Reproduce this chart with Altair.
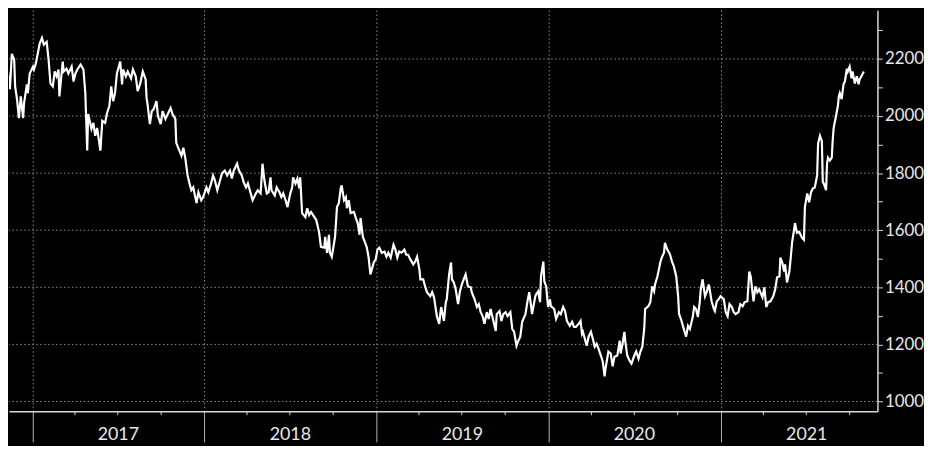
import altair as alt
import pandas as pd

# ---- data ----
base_date = "2017-01-01"
# days since 2017-01-01
day_offsets = [
    -67, -60, -54, -52, -48, -44, -39, -37, -33, -29, -25, -20, -18, -12, -10, -6, 1, 3, 7, 11,
    15, 20, 24, 30, 34, 38, 43, 47, 51, 55, 57, 64, 66, 72, 76, 83, 87, 91, 95, 102,
    108, 112, 116, 118, 125, 129, 133, 137, 144, 148, 154, 158, 163, 167, 171, 175, 179, 186, 190, 192,
    198, 202, 209, 213, 219, 223, 228, 234, 240,
    242, 244, 249, 253, 257, 263, 266, 272, 276, 282, 287, 293, 297, 303, 305, 310, 316, 320, 324, 329,
    333, 337, 341, 348, 352, 358, 362, 369, 373, 379, 383, 387, 392, 398, 402, 408, 413, 419, 423, 427,
    434, 438, 444, 448, 453, 457, 463, 467, 474, 478, 484, 488, 492, 497, 501, 505, 507, 514, 518, 524,
    528, 532, 537, 541, 547, 551,
    553, 558, 562, 566, 568, 572, 579, 583, 587, 591, 598, 602, 608, 612, 619, 621, 625, 629, 631, 635,
    642, 646, 650, 654, 656, 661, 665, 667, 671, 675, 682, 686, 690, 694, 696, 701, 705, 709, 713, 717,
    724, 728, 732, 736, 741, 747, 751, 755, 760, 766, 770, 774, 778, 783, 789, 793, 797, 802, 808, 812,
    816, 821, 823, 829, 833, 837, 844, 848, 852,
    858, 863, 867, 869, 873, 877, 879, 884, 888, 890, 894, 898, 903, 907, 911, 915, 919, 924, 930, 932,
    938, 943, 947, 951, 955, 959, 964, 968, 972, 976, 983, 985, 991, 995, 999, 1004, 1008, 1014, 1018, 1022,
    1027, 1031, 1035, 1039, 1046, 1050, 1054, 1058, 1060, 1067, 1069, 1073, 1077, 1079, 1084, 1086, 1090, 1094, 1098, 1100,
    1107, 1111, 1117, 1121, 1126, 1130, 1134, 1140, 1145, 1149, 1153, 1159, 1163, 1166,
    1168, 1172, 1176, 1180, 1185, 1189, 1193, 1197, 1201, 1206, 1210, 1214, 1216, 1222, 1227, 1231, 1235, 1241, 1246, 1248,
    1252, 1256, 1258, 1262, 1267, 1271, 1277, 1281, 1286, 1290, 1294, 1298, 1300, 1307, 1311, 1315, 1319, 1321, 1326, 1330,
    1332, 1336, 1340, 1342, 1347, 1351, 1353, 1357, 1361, 1366, 1370, 1372, 1376, 1382, 1387, 1391, 1395, 1401, 1404, 1408,
    1412, 1416, 1418, 1422, 1427, 1431, 1435, 1437, 1441, 1446, 1448, 1452, 1456, 1460, 1467, 1471,
    1475, 1479, 1484, 1488, 1492, 1498, 1502, 1507, 1511, 1517, 1521, 1524, 1530, 1534, 1538, 1542, 1549, 1553, 1557, 1561,
    1566, 1572, 1576, 1580, 1585, 1587, 1591, 1595, 1597, 1601, 1606, 1608, 1612, 1616, 1618, 1622, 1627, 1633, 1637, 1639,
    1644, 1648, 1652, 1656, 1660, 1665, 1667, 1671, 1675, 1677, 1679, 1684, 1686, 1688, 1692, 1696, 1698, 1700, 1705, 1709,
    1711, 1713, 1717, 1721, 1724, 1728, 1730, 1734, 1738, 1740, 1745, 1749, 1753, 1755, 1759, 1764,
]
prices = [
    2163, 2225, 2253, 2149, 2094, 2218, 2198, 2104, 2059, 1993, 2069, 1993, 2045, 2111, 2080, 2149, 2173, 2163, 2184, 2218,
    2253, 2274, 2250, 2260, 2198, 2114, 2104, 2156, 2139, 2163, 2069, 2191, 2156, 2166, 2149, 2173, 2121, 2149, 2163, 2180,
    2163, 2080, 1879, 2007, 1955, 1976, 1931, 1958, 1879, 1983, 1976, 2010, 2035, 2104, 2052, 2080, 2149, 2191, 2111, 2163,
    2139, 2156, 2132, 2163, 2139, 2087, 2111, 2156, 2128,
    2062, 2042, 1972, 2017, 2024, 2052, 2000, 1972, 2017, 1990, 2007, 2028, 2007, 1990, 1906, 1885, 1861, 1889, 1854, 1792,
    1764, 1740, 1750, 1695, 1733, 1705, 1716, 1750, 1733, 1764, 1792, 1775, 1740, 1775, 1799, 1809, 1792, 1809, 1781, 1809,
    1833, 1809, 1792, 1768, 1750, 1764, 1729, 1705, 1729, 1740, 1729, 1833, 1775, 1729, 1733, 1785, 1740, 1722, 1750, 1733,
    1716, 1729, 1705, 1681, 1729, 1750,
    1785, 1764, 1781, 1747, 1785, 1660, 1646, 1677, 1653, 1664, 1646, 1636, 1594, 1542, 1539, 1577, 1521, 1584, 1521, 1507,
    1577, 1681, 1695, 1747, 1757, 1705, 1716, 1677, 1705, 1660, 1664, 1643, 1625, 1584, 1643, 1577, 1559, 1542, 1507, 1445,
    1487, 1497, 1532, 1539, 1521, 1525, 1507, 1521, 1504, 1549, 1532, 1504, 1525, 1521, 1532, 1514, 1514, 1497, 1480, 1490,
    1507, 1462, 1428, 1428, 1403, 1383, 1369, 1383, 1365,
    1299, 1272, 1331, 1317, 1282, 1348, 1358, 1445, 1487, 1428, 1417, 1393, 1341, 1386, 1410, 1428, 1445, 1403, 1400, 1383,
    1358, 1331, 1341, 1313, 1299, 1272, 1313, 1289, 1324, 1296, 1247, 1306, 1317, 1282, 1306, 1313, 1299, 1313, 1254, 1244,
    1195, 1213, 1227, 1279, 1306, 1348, 1383, 1334, 1306, 1369, 1376, 1386, 1348, 1438, 1490, 1421, 1403, 1331, 1358, 1334,
    1324, 1289, 1313, 1306, 1331, 1317, 1282, 1265, 1279, 1261, 1261, 1272, 1282, 1237,
    1244, 1220, 1195, 1227, 1244, 1220, 1192, 1202, 1185, 1161, 1140, 1088, 1116, 1175, 1168, 1123, 1157, 1161, 1213, 1168,
    1202, 1244, 1209, 1161, 1143, 1133, 1161, 1175, 1150, 1175, 1192, 1254, 1324, 1334, 1348, 1403, 1386, 1410, 1438, 1469,
    1487, 1507, 1521, 1556, 1532, 1521, 1514, 1490, 1473, 1438, 1369, 1306, 1289, 1254, 1227, 1265, 1254, 1296, 1331, 1324,
    1296, 1351, 1393, 1428, 1369, 1386, 1410, 1393, 1351, 1324, 1317, 1351, 1358, 1369, 1358, 1313,
    1299, 1341, 1331, 1313, 1306, 1313, 1341, 1334, 1348, 1351, 1455, 1438, 1351, 1403, 1383, 1393, 1365, 1400, 1331, 1348,
    1351, 1369, 1393, 1435, 1438, 1504, 1487, 1455, 1480, 1417, 1455, 1487, 1559, 1601, 1625, 1591, 1594, 1573, 1566, 1681,
    1729, 1698, 1733, 1747, 1750, 1792, 1903, 1931, 1913, 1768, 1764, 1740, 1833, 1854, 1844, 1854, 1913, 1958, 2000, 2035,
    2069, 2080, 2059, 2111, 2121, 2166, 2156, 2173, 2132, 2156, 2114, 2139, 2111, 2128, 2139, 2156,
]

year_starts = ["2017-01-01", "2018-01-01", "2019-01-01", "2020-01-01", "2021-01-01"]
year_labels = ["2017", "2018", "2019", "2020", "2021"]
year_mids = ["2017-07-02", "2018-07-02", "2019-07-02", "2020-07-01", "2021-07-02"]
quarter_ticks = [
    "2017-04-01", "2017-07-01", "2017-10-01",
    "2018-04-01", "2018-07-01", "2018-10-01",
    "2019-04-01", "2019-07-01", "2019-10-01",
    "2020-04-01", "2020-07-01", "2020-10-01",
    "2021-04-01", "2021-07-01", "2021-10-01",
]
grid_values = [1000, 1200, 1400, 1600, 1800, 2000, 2200]
y_tick_values = [1000, 1100, 1200, 1300, 1400, 1500, 1600, 1700, 1800, 1900, 2000, 2100, 2200, 2300]
x_domain = ["2016-11-12", "2021-11-29"]
y_domain = [966, 2371]

# ---- styling ----
W, H = 877, 405
FONT = "Lato"
TEXT = "#e8e8e8"
GRID = "#8f8f8f"
AXIS = "#d8d8d8"
SEP = "#b4b4b4"


def ms(s):
    return int(pd.Timestamp(s).value // 10**6)


dates = (pd.Timestamp(base_date) + pd.to_timedelta(day_offsets, unit="D")).strftime("%Y-%m-%d")
df = pd.DataFrame({"date": list(dates), "price": prices})

x_scale = alt.Scale(domain=[ms(d) for d in x_domain])
y_scale = alt.Scale(domain=y_domain, nice=False, zero=False)

x_axis = alt.Axis(
    values=[ms(d) for d in year_starts],
    grid=True, gridColor=GRID, gridDash=[1.5, 2.5], gridWidth=1,
    labels=False, ticks=True, tickSize=31, tickColor=SEP, tickWidth=1,
    domain=True, domainColor=AXIS, domainWidth=1.5, title=None, orient="bottom",
)
y_axis = alt.Axis(
    orient="right", values=y_tick_values, grid=False,
    labelExpr="datum.value % 200 == 0 ? datum.label : ''", format="d",
    labelOverlap=False, tickSize=5, tickColor=AXIS, tickWidth=1,
    domain=True, domainColor=AXIS, domainWidth=1.5,
    labelColor=TEXT, labelFont=FONT, labelFontSize=17, labelPadding=2, title=None,
)

line = alt.Chart(df).mark_line(color="#ffffff", strokeWidth=2.2, clip=True).encode(
    x=alt.X("date:T", scale=x_scale, axis=x_axis),
    y=alt.Y("price:Q", scale=y_scale, axis=y_axis),
)

hgrid = alt.Chart(pd.DataFrame({"v": grid_values})).mark_rule(
    color=GRID, strokeDash=[1.5, 2.5], strokeWidth=1
).encode(y=alt.Y("v:Q", scale=y_scale, axis=y_axis))

qticks = alt.Chart(pd.DataFrame({"d": quarter_ticks})).mark_rule(
    color=AXIS, strokeWidth=1
).encode(
    x=alt.X("d:T", scale=x_scale, axis=x_axis),
    y=alt.value(H),
    y2=alt.value(H + 4),
)

ylabels = alt.Chart(pd.DataFrame({"d": year_mids, "label": year_labels})).mark_text(
    color=TEXT, font=FONT, fontSize=18, baseline="middle", align="center"
).encode(
    x=alt.X("d:T", scale=x_scale, axis=x_axis),
    y=alt.value(H + 24),
    text="label:N",
)

chart = alt.layer(hgrid, line, qticks, ylabels).properties(
    width=W, height=H,
    background="#000000",
    padding={"left": 0, "top": 0, "right": 0, "bottom": 0},
).configure_view(stroke=None)

chart.save("out.html", embed_options={"renderer": "svg", "actions": False})
